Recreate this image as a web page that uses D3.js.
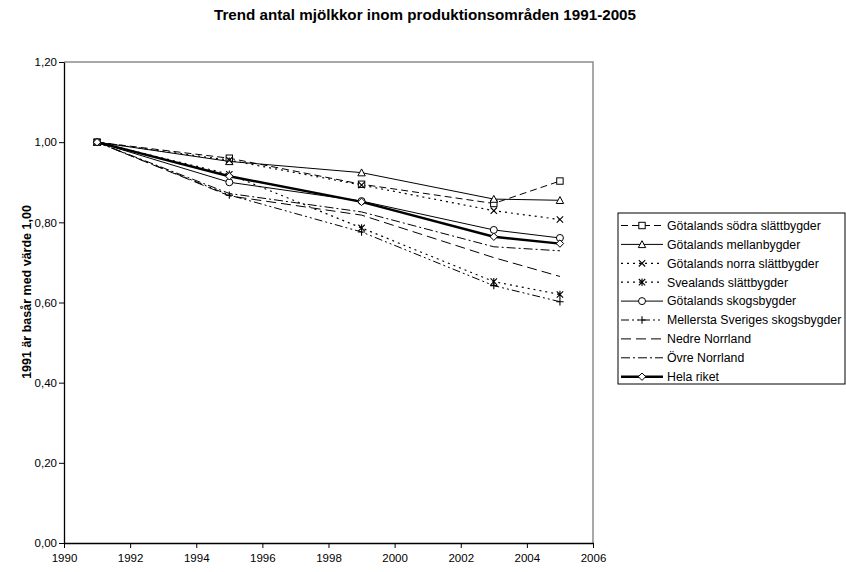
<!DOCTYPE html>
<html>
<head>
<meta charset="utf-8">
<script src="https://cdn.jsdelivr.net/npm/d3@7"></script>
<style>
  html, body { margin: 0; padding: 0; background: #fff; }
  svg { display: block; font-family: "Liberation Sans", Arial, sans-serif; }
</style>
</head>
<body>
<svg id="chart" width="846" height="572"></svg>
<script>
// Index of dairy cow numbers per production area, 1991 = 1,00
const years = [1991, 1995, 1999, 2003, 2005];

const gotalandsSodraSlattbygder   = [1.00, 0.960, 0.895, 0.847, 0.903];
const gotalandsMellanbygder       = [1.00, 0.952, 0.924, 0.858, 0.855];
const gotalandsNorraSlattbygder   = [1.00, 0.955, 0.893, 0.829, 0.807];
const svealandsSlattbygder        = [1.00, 0.920, 0.786, 0.652, 0.620];
const gotalandsSkogsbygder        = [1.00, 0.900, 0.853, 0.781, 0.761];
const mellerstaSverigesSkogsbygder= [1.00, 0.868, 0.776, 0.642, 0.602];
const nedreNorrland               = [1.00, 0.866, 0.818, 0.712, 0.665];
const ovreNorrland                = [1.00, 0.872, 0.826, 0.739, 0.729];
const helaRiket                   = [1.00, 0.915, 0.851, 0.764, 0.747];

const seriesNames = [
  "Götalands södra slättbygder",
  "Götalands mellanbygder",
  "Götalands norra slättbygder",
  "Svealands slättbygder",
  "Götalands skogsbygder",
  "Mellersta Sveriges skogsbygder",
  "Nedre Norrland",
  "Övre Norrland",
  "Hela riket"
];
const seriesValues = [
  gotalandsSodraSlattbygder, gotalandsMellanbygder, gotalandsNorraSlattbygder,
  svealandsSlattbygder, gotalandsSkogsbygder, mellerstaSverigesSkogsbygder,
  nedreNorrland, ovreNorrland, helaRiket
];

const xTicks = [1990, 1992, 1994, 1996, 1998, 2000, 2002, 2004, 2006];
const yTicks = [0, 0.2, 0.4, 0.6, 0.8, 1.0, 1.2];

const titleText = "Trend antal mjölkkor inom produktionsområden 1991-2005";
const yTitleText = "1991 är basår med värde 1,00";

// Line styles and marker shapes per series
const styles = [
  { dash: "7,4",       width: 1,   marker: "square" },
  { dash: null,        width: 1,   marker: "triangle" },
  { dash: "2,4",       width: 1.2, marker: "x" },
  { dash: "2,4",       width: 1.2, marker: "asterisk" },
  { dash: null,        width: 1,   marker: "circle" },
  { dash: "8,3,2,3,2,3", width: 1, marker: "plus" },
  { dash: "10,5",      width: 1,   marker: null },
  { dash: "9,3,2,3",   width: 1,   marker: null },
  { dash: null,        width: 2.4, marker: "diamond" }
];

const series = seriesNames.map((name, i) => ({
  name,
  style: styles[i],
  points: years.map((yr, j) => ({ year: yr, value: seriesValues[i][j] }))
}));

const svg = d3.select("#chart");
const plot = { left: 64, right: 593, top: 62, bottom: 543 };

const x = d3.scaleLinear().domain([1990, 2006]).range([plot.left, plot.right]);
const y = d3.scaleLinear().domain([0, 1.2]).range([plot.bottom, plot.top]);
const fmt = v => d3.format(".2f")(v).replace(".", ",");

// Plot frame (top/right in grey)
svg.append("path")
  .attr("d", `M${plot.left},${plot.top}H${plot.right}V${plot.bottom}`)
  .attr("fill", "none").attr("stroke", "#8c8c8c").attr("stroke-width", 1.5);

// Axes
const xAxis = svg.append("g")
  .attr("transform", `translate(0,${plot.bottom})`)
  .call(d3.axisBottom(x).tickValues(xTicks).tickFormat(d3.format("d")).tickSize(5).tickSizeOuter(0));
const yAxis = svg.append("g")
  .attr("transform", `translate(${plot.left},0)`)
  .call(d3.axisLeft(y).tickValues(yTicks).tickFormat(fmt).tickSize(5).tickSizeOuter(0));
[xAxis, yAxis].forEach(g => {
  g.select(".domain").attr("stroke", "#000").attr("stroke-width", 1.3);
  g.selectAll(".tick line").attr("stroke", "#000");
  g.selectAll("text").attr("font-family", "'Liberation Sans', Arial, sans-serif")
    .attr("font-size", 11.5).attr("fill", "#000");
});
xAxis.selectAll("text").attr("dy", "0.95em");
yAxis.selectAll("text").attr("x", -7);

// Titles
svg.append("text")
  .attr("x", 425).attr("y", 20).attr("text-anchor", "middle")
  .attr("font-size", 15.2).attr("font-weight", "bold").text(titleText);
svg.append("text")
  .attr("transform", `translate(31,292) rotate(-90)`)
  .attr("text-anchor", "middle").attr("font-size", 12.5).attr("font-weight", "bold")
  .text(yTitleText);

// Marker drawing
function drawMarker(g, type, cx, cy) {
  const s = 3.2;
  if (type === "square") {
    g.append("rect").attr("x", cx - s).attr("y", cy - s).attr("width", 2 * s).attr("height", 2 * s)
      .attr("fill", "#fff").attr("stroke", "#000").attr("stroke-width", 1);
  } else if (type === "triangle") {
    g.append("path").attr("d", `M${cx},${cy - s - 0.5}L${cx + s + 0.5},${cy + s}L${cx - s - 0.5},${cy + s}Z`)
      .attr("fill", "#fff").attr("stroke", "#000").attr("stroke-width", 1);
  } else if (type === "circle") {
    g.append("circle").attr("cx", cx).attr("cy", cy).attr("r", s + 0.3)
      .attr("fill", "#fff").attr("stroke", "#000").attr("stroke-width", 1);
  } else if (type === "diamond") {
    g.append("path").attr("d", `M${cx},${cy - s - 0.5}L${cx + s + 0.5},${cy}L${cx},${cy + s + 0.5}L${cx - s - 0.5},${cy}Z`)
      .attr("fill", "#fff").attr("stroke", "#000").attr("stroke-width", 1);
  } else if (type === "x") {
    g.append("path").attr("d", `M${cx - s},${cy - s}L${cx + s},${cy + s}M${cx - s},${cy + s}L${cx + s},${cy - s}`)
      .attr("stroke", "#000").attr("stroke-width", 1.1);
  } else if (type === "asterisk") {
    g.append("path").attr("d", `M${cx - s},${cy - s}L${cx + s},${cy + s}M${cx - s},${cy + s}L${cx + s},${cy - s}M${cx},${cy - s - 0.5}V${cy + s + 0.5}`)
      .attr("stroke", "#000").attr("stroke-width", 1.1);
  } else if (type === "plus") {
    g.append("path").attr("d", `M${cx - s - 0.5},${cy}H${cx + s + 0.5}M${cx},${cy - s - 0.5}V${cy + s + 0.5}`)
      .attr("stroke", "#000").attr("stroke-width", 1.1);
  }
}

// Series lines and markers
const line = d3.line().x(d => x(d.year)).y(d => y(d.value));
const linesG = svg.append("g");
series.forEach(s => {
  linesG.append("path").datum(s.points)
    .attr("d", line).attr("fill", "none").attr("stroke", "#000")
    .attr("stroke-width", s.style.width)
    .attr("stroke-dasharray", s.style.dash);
});
const markersG = svg.append("g");
series.forEach(s => {
  if (!s.style.marker) return;
  s.points.forEach(p => drawMarker(markersG, s.style.marker, x(p.year), y(p.value)));
});

// Legend
const legend = svg.append("g");
const lg = { x: 618, y: 213, w: 227, h: 171, row: 18.9, first: 225.5 };
legend.append("rect").attr("x", lg.x).attr("y", lg.y).attr("width", lg.w).attr("height", lg.h)
  .attr("fill", "#fff").attr("stroke", "#000").attr("stroke-width", 1);
series.forEach((s, i) => {
  const cy = lg.first + i * lg.row;
  legend.append("line").attr("x1", 621).attr("x2", 663).attr("y1", cy).attr("y2", cy)
    .attr("stroke", "#000").attr("stroke-width", s.style.width)
    .attr("stroke-dasharray", s.style.dash);
  if (s.style.marker) drawMarker(legend, s.style.marker, 642, cy);
  legend.append("text").attr("x", 667).attr("y", cy).attr("dy", "0.35em")
    .attr("font-size", 12.3).text(s.name);
});
</script>
</body>
</html>
